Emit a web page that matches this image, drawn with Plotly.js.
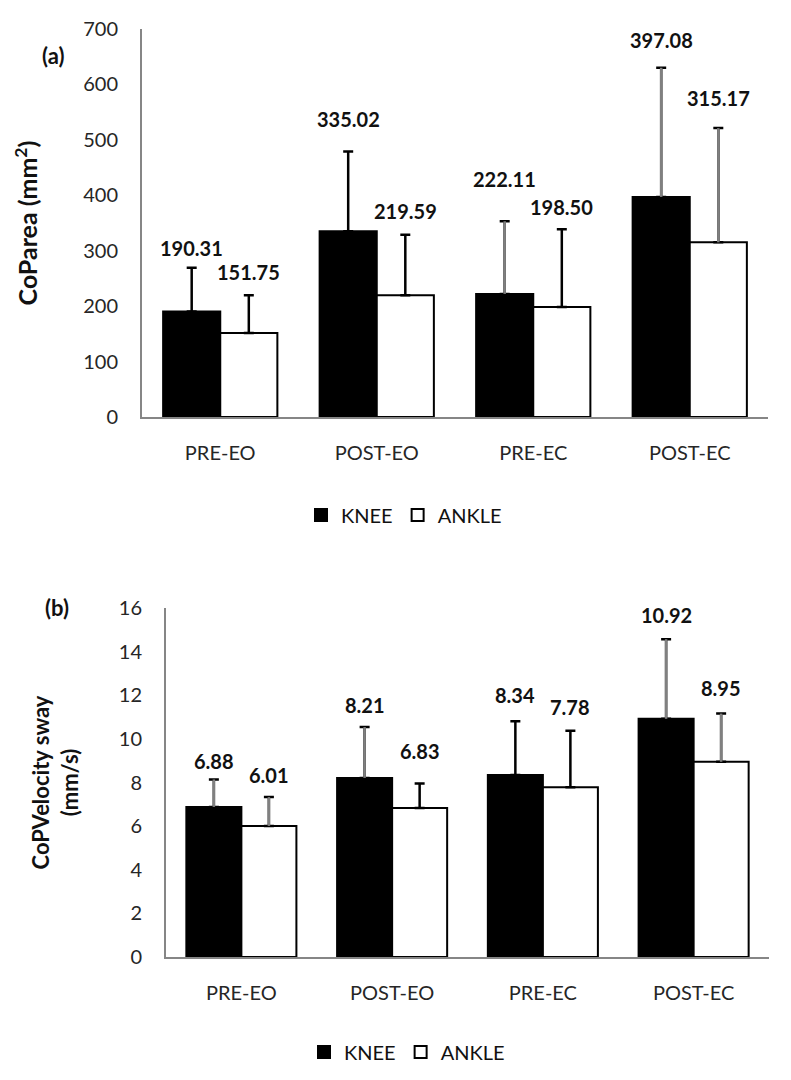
<!DOCTYPE html>
<html>
<head>
<meta charset="utf-8">
<script src="https://cdn.plot.ly/plotly-3.0.1.min.js"></script>
<style>html,body{margin:0;padding:0;background:#fff}#chart{width:791px;height:1080px}</style>
</head>
<body>
<div id="chart"></div>
<script>
// ---- data ----
const categories = ['PRE-EO', 'POST-EO', 'PRE-EC', 'POST-EC'];
const seriesNames = ['KNEE', 'ANKLE'];

const areaKnee = [190.31, 335.02, 222.11, 397.08];
const areaAnkle = [151.75, 219.59, 198.50, 315.17];
const areaKneeSD = [79, 144, 131, 233];
const areaAnkleSD = [68, 109, 140, 206];

const velKnee = [6.88, 8.21, 8.34, 10.92];
const velAnkle = [6.01, 6.83, 7.78, 8.95];
const velKneeSD = [1.26, 2.33, 2.47, 3.65];
const velAnkleSD = [1.32, 1.12, 2.59, 2.21];

// ---- style: error-bar stem colour per point ('k' black, 'g' grey) ----
const areaKneeErrStyle = ['k', 'k', 'g', 'g'];
const areaAnkleErrStyle = ['k', 'k', 'k', 'g'];
const velKneeErrStyle = ['g', 'g', 'k', 'g'];
const velAnkleErrStyle = ['g', 'k', 'k', 'g'];

// ---- style: value-label lift above the error bar (px) ----
const areaKneeLift = [20, 32, 42, 28];
const areaAnkleLift = [23, 24, 22, 30];
const velKneeLift = [18, 22, 26, 24];
const velAnkleLift = [22, 33, 24, 26];

const FONT = 'Lato, "Open Sans", sans-serif';
const BLACK = '#000000';
const GREY = '#808080';
const AXIS = '#868686';
const BARGAP = 0.27;

function pick(arr, style, key) {
  return arr.map((v, i) => style[i] === key ? v : 0);
}

function seriesTraces(name, vals, sd, style, xa, ya, fill, legendId, og) {
  const zeros = vals.map(() => 0);
  const main = {
    type: 'bar', name: name, x: categories, y: vals, xaxis: xa, yaxis: ya,
    offsetgroup: og, legend: legendId,
    marker: {color: fill, line: {color: BLACK, width: 2}},
    error_y: {type: 'data', symmetric: false, array: sd, arrayminus: zeros,
              color: BLACK, thickness: 2.5, width: 5},
    hoverinfo: 'skip'
  };
  // grey stems drawn over the black ones where the reference shows grey
  const greyErr = {
    type: 'bar', name: name + ' sd', x: categories, y: vals, xaxis: xa, yaxis: ya,
    offsetgroup: og, legend: legendId, showlegend: false,
    marker: {color: 'rgba(0,0,0,0)', line: {width: 0}},
    error_y: {type: 'data', symmetric: false, array: pick(sd, style, 'g'), arrayminus: zeros,
              color: GREY, thickness: 2.5, width: 0},
    hoverinfo: 'skip'
  };
  return [main, greyErr];
}

const traces = [
  ...seriesTraces(seriesNames[0], areaKnee, areaKneeSD, areaKneeErrStyle, 'x', 'y', BLACK, 'legend', 'k1'),
  ...seriesTraces(seriesNames[1], areaAnkle, areaAnkleSD, areaAnkleErrStyle, 'x', 'y', '#ffffff', 'legend', 'a1'),
  ...seriesTraces(seriesNames[0], velKnee, velKneeSD, velKneeErrStyle, 'x2', 'y2', BLACK, 'legend2', 'k2'),
  ...seriesTraces(seriesNames[1], velAnkle, velAnkleSD, velAnkleErrStyle, 'x2', 'y2', '#ffffff', 'legend2', 'a2')
];

// value labels above the error bars
const half = (1 - BARGAP) / 4;
function labels(vals, sd, lift, side, xr, yr) {
  return vals.map((v, i) => ({
    xref: xr, yref: yr, x: i + side * half, y: v + sd[i],
    text: '<b>' + v.toFixed(2) + '</b>', showarrow: false, yshift: lift[i], yanchor: 'middle',
    font: {family: FONT, size: 20, color: '#111'}
  }));
}

const annotations = [
  ...labels(areaKnee, areaKneeSD, areaKneeLift, -1, 'x', 'y'),
  ...labels(areaAnkle, areaAnkleSD, areaAnkleLift, 1, 'x', 'y'),
  ...labels(velKnee, velKneeSD, velKneeLift, -1, 'x2', 'y2'),
  ...labels(velAnkle, velAnkleSD, velAnkleLift, 1, 'x2', 'y2'),
  {xref: 'paper', yref: 'paper', x: 40 / 791, y: 1 - 40 / 1080, text: '<b>(a)</b>', showarrow: false,
   font: {family: FONT, size: 22, color: '#111'}},
  {xref: 'paper', yref: 'paper', x: 43 / 791, y: 1 - 607 / 1080, text: '<b>(b)</b>', showarrow: false,
   font: {family: FONT, size: 22, color: '#111'}}
];

const tickFont = {family: FONT, size: 20, color: '#262626'};
const xCommon = {
  type: 'category', showline: true, linecolor: AXIS, linewidth: 2, ticks: '',
  showgrid: false, zeroline: false, tickfont: tickFont, ticklabelstandoff: 17, fixedrange: true
};
const yCommon = {
  showline: true, linecolor: AXIS, linewidth: 2, ticks: '', showgrid: false, zeroline: false,
  tickfont: tickFont, ticklabelstandoff: 18, fixedrange: true
};

const layout = {
  width: 791, height: 1080,
  margin: {l: 0, r: 0, t: 0, b: 0},
  paper_bgcolor: '#fff', plot_bgcolor: '#fff',
  barmode: 'group', bargap: BARGAP, bargroupgap: 0,
  font: {family: FONT, color: '#111'},
  showlegend: true,
  xaxis: Object.assign({}, xCommon, {domain: [142 / 791, 768 / 791], anchor: 'y'}),
  yaxis: Object.assign({}, yCommon, {domain: [1 - 417 / 1080, 1 - 29 / 1080], anchor: 'x',
    range: [0, 700], dtick: 100,
    title: {text: '<b>CoParea (mm<sup>2</sup>)</b>', standoff: 38, font: {family: FONT, size: 25, color: '#111'}}}),
  xaxis2: Object.assign({}, xCommon, {domain: [166 / 791, 769 / 791], anchor: 'y2'}),
  yaxis2: Object.assign({}, yCommon, {domain: [1 - 957 / 1080, 1 - 608 / 1080], anchor: 'x2',
    range: [0, 16], dtick: 2,
    title: {text: '<b>CoPVelocity sway<br>(mm/s)</b>', standoff: 34, font: {family: FONT, size: 22, color: '#111'}}}),
  legend: {orientation: 'h', x: 404 / 791, xanchor: 'center', y: 1 - 515 / 1080, yanchor: 'middle',
    font: {family: FONT, size: 20, color: '#111'}, bgcolor: 'rgba(0,0,0,0)', traceorder: 'normal'},
  legend2: {orientation: 'h', x: 407 / 791, xanchor: 'center', y: 1 - 1052 / 1080, yanchor: 'middle',
    font: {family: FONT, size: 20, color: '#111'}, bgcolor: 'rgba(0,0,0,0)', traceorder: 'normal'},
  annotations: annotations
};

Plotly.newPlot('chart', traces, layout, {displayModeBar: false, staticPlot: true});
</script>
</body>
</html>
